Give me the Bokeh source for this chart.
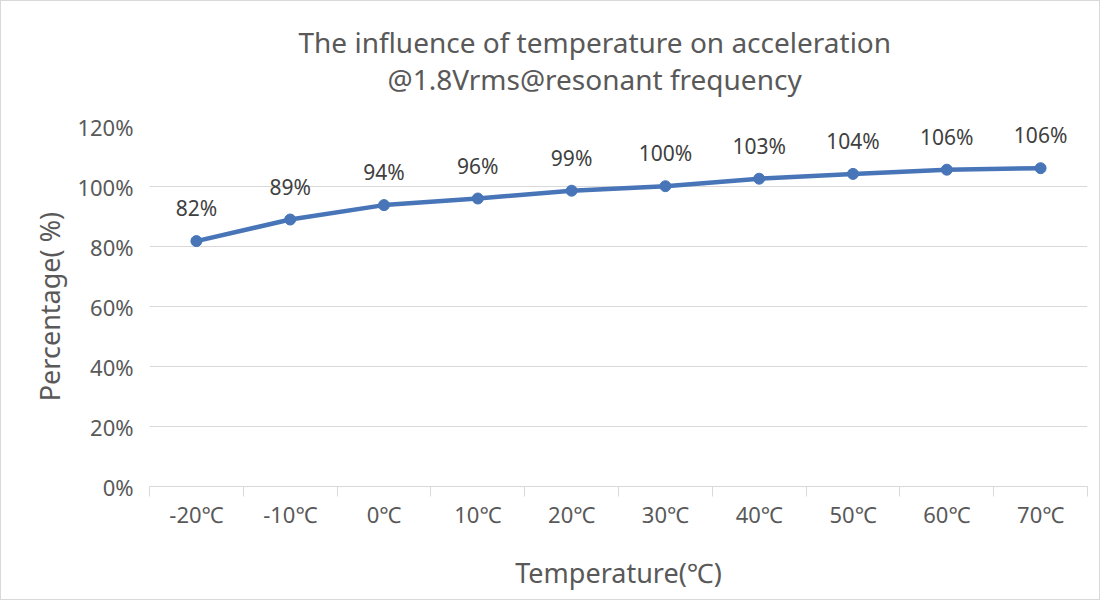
from bokeh.plotting import figure
from bokeh.models import Range1d, FixedTicker, PrintfTickFormatter, ColumnDataSource, Title
from bokeh.core.properties import value
from bokeh.embed import file_html
from bokeh.resources import INLINE

categories = ["-20℃", "-10℃", "0℃", "10℃", "20℃", "30℃", "40℃", "50℃", "60℃", "70℃"]
percentages = [81.8, 89.0, 93.8, 96.0, 98.6, 100.1, 102.6, 104.2, 105.6, 106.1]
y_ticks = [0, 20, 40, 60, 80, 100, 120]
title_lines = ["The influence of temperature on acceleration", "@1.8Vrms@resonant frequency"]

FONT = "Noto Sans, DejaVu Sans"
GREY = "#595959"
GRID = "#d9d9d9"
BLUE = "#4775b8"

W, H = 1100, 600
LEFT, RIGHT, TOP, BOTTOM = 148, 14, 125, 115

n = len(categories)
xs = [i + 0.5 for i in range(n)]
source = ColumnDataSource(dict(
    x=xs, y=percentages, cat=categories,
    lab=[f"{round(v)}%" for v in percentages],
))

p = figure(width=W, height=H, output_backend="svg", toolbar_location=None,
           x_range=Range1d(0, n), y_range=Range1d(0, y_ticks[-1]),
           min_border_left=LEFT, min_border_right=RIGHT, min_border_top=TOP, min_border_bottom=BOTTOM)
p.styles = {"border": "1px solid #d9d9d9"}
p.outline_line_color = None
p.background_fill_color = "white"
p.border_fill_color = "white"

# title: a thin spacer nearest the plot, then the two lines, each placed to be centred
p.add_layout(Title(text=" ", text_font_size="1px", standoff=26), "above")
p.add_layout(Title(text=title_lines[1], align="left", offset=238, standoff=0,
                   text_font=FONT, text_font_size="28px", text_font_style="normal",
                   text_color=GREY), "above")
p.add_layout(Title(text=title_lines[0], align="left", offset=149, standoff=-6,
                   text_font=FONT, text_font_size="28px", text_font_style="normal",
                   text_color=GREY), "above")

p.line("x", "y", source=source, line_color=BLUE, line_width=4.5)
p.scatter("x", "y", source=source, size=11, fill_color=BLUE, line_color=BLUE)
p.text("x", "y", text="lab", source=source, y_offset=-33, text_align="center",
       text_baseline="middle", text_font=value(FONT), text_font_size="21px", text_color="#404040")

# x axis
xa = p.xaxis[0]
xa.ticker = FixedTicker(ticks=xs, minor_ticks=list(range(n + 1)))
xa.major_label_overrides = {x: c for x, c in zip(xs, categories)}
xa.major_tick_line_color = None
xa.major_tick_out = 0
xa.major_tick_in = 0
xa.minor_tick_line_color = GRID
xa.minor_tick_out = 10
xa.minor_tick_in = 0
xa.axis_line_color = GRID
xa.major_label_text_font = FONT
xa.major_label_text_font_size = "22px"
xa.major_label_text_color = GREY
xa.major_label_standoff = 2
xa.axis_label = "Temperature(℃)"
xa.axis_label_text_font = FONT
xa.axis_label_text_font_size = "27px"
xa.axis_label_text_font_style = "normal"
xa.axis_label_text_color = GREY
xa.axis_label_standoff = 22

# y axis
ya = p.yaxis[0]
ya.ticker = FixedTicker(ticks=y_ticks)
ya.formatter = PrintfTickFormatter(format="%d%%")
ya.axis_line_color = None
ya.major_tick_line_color = None
ya.minor_tick_line_color = None
ya.major_tick_out = 0
ya.major_label_text_font = FONT
ya.major_label_text_font_size = "22px"
ya.major_label_text_color = GREY
ya.major_label_standoff = 16
ya.axis_label = "Percentage( %)"
ya.axis_label_text_font = FONT
ya.axis_label_text_font_size = "27px"
ya.axis_label_text_font_style = "normal"
ya.axis_label_text_color = GREY
ya.axis_label_standoff = 6

p.xgrid.grid_line_color = None
p.ygrid.ticker = FixedTicker(ticks=y_ticks)
p.ygrid.grid_line_color = GRID
p.ygrid.grid_line_width = 1

open("out.html", "w").write(file_html(p, INLINE))
